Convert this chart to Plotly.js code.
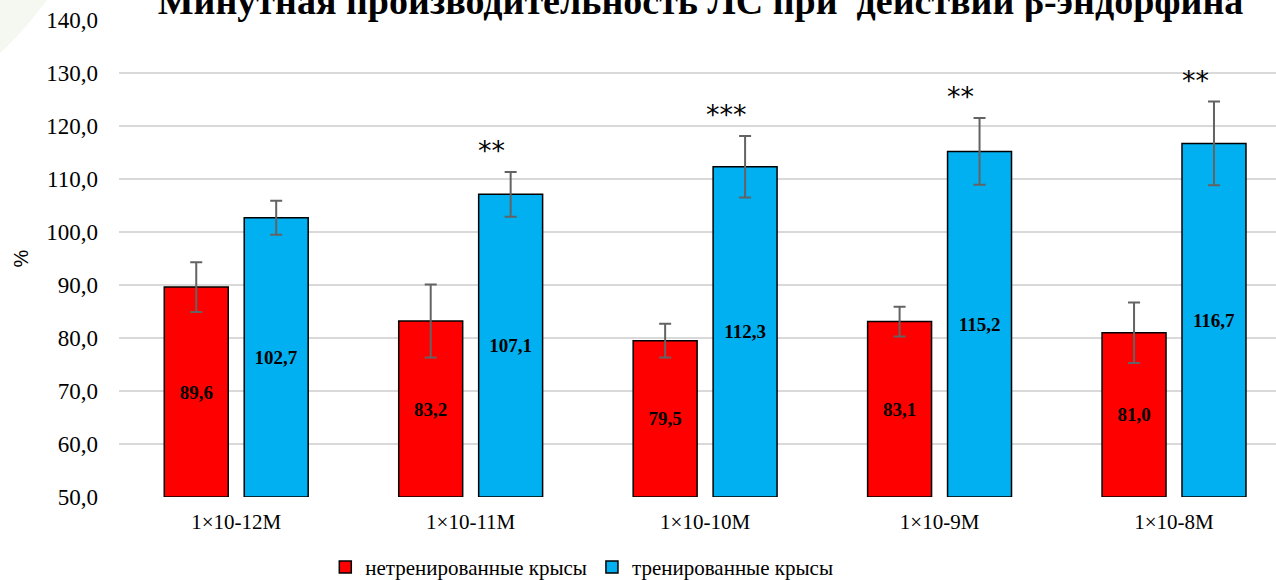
<!DOCTYPE html>
<html>
<head>
<meta charset="utf-8">
<script src="https://cdn.plot.ly/plotly-3.0.1.min.js"></script>
<style>html,body{margin:0;padding:0;background:#fff;}#chart{width:1276px;height:580px;}</style>
</head>
<body>
<div id="chart"></div>
<script>
const categories = ["1×10-12M", "1×10-11M", "1×10-10M", "1×10-9M", "1×10-8M"];
const untrainedValues = [89.6, 83.2, 79.5, 83.1, 81.0];
const untrainedErrors = [4.7, 6.9, 3.2, 2.8, 5.7];
const trainedValues = [102.7, 107.1, 112.3, 115.2, 116.7];
const trainedErrors = [3.2, 4.2, 5.8, 6.3, 7.9];
const significance = ["", "**", "***", "**", "**"];
const seriesNames = ["нетренированные крысы", "тренированные крысы"];
const yTicks = [50, 60, 70, 80, 90, 100, 110, 120, 130, 140];
const axisBase = 50;

const serif = "Liberation Serif, Times New Roman, serif";
const sans = "Liberation Sans, Arial, sans-serif";

function barTrace(name, values, errors, color) {
  return {
    type: "bar",
    name: name,
    x: categories.map((c, i) => i),
    base: axisBase,
    y: values.map(v => v - axisBase),
    text: values.map(v => v.toFixed(1).replace(".", ",")),
    texttemplate: "%{text}",
    marker: {color: color, line: {color: "#000000", width: 1.5}},
    error_y: {type: "data", array: errors, visible: true, color: "#636363", thickness: 2, width: 6},
    textposition: "inside",
    insidetextanchor: "middle",
    textangle: 0,
    constraintext: "none",
    textfont: {family: serif, size: 19, color: "#000000", weight: "bold"},
    hoverinfo: "skip"
  };
}

const traces = [
  barTrace(seriesNames[0], untrainedValues, untrainedErrors, "#FF0000"),
  barTrace(seriesNames[1], trainedValues, trainedErrors, "#00B0F0")
];

const annotations = significance.map((s, i) => ({
  x: i + 0.09, xref: "x",
  y: trainedValues[i] + trainedErrors[i], yref: "y",
  text: s,
  showarrow: false,
  xanchor: "center", yanchor: "bottom",
  yshift: 4,
  font: {family: "DejaVu Sans, sans-serif", size: 27, color: "#000000"}
})).filter(a => a.text !== "");

const layout = {
  width: 1276, height: 580,
  margin: {l: 119, r: 0, t: 20, b: 83},
  paper_bgcolor: "#ffffff", plot_bgcolor: "rgba(0,0,0,0)",
  separators: ",.",
  title: {
    text: "<b>Минутная производительность ЛС при  действии β-эндорфина</b>",
    font: {family: serif, size: 38, color: "#000000"},
    x: 0.549, xanchor: "center", xref: "container",
    y: 0.998, yanchor: "middle", yref: "container"
  },
  barmode: "group",
  bargap: 0.318,
  bargroupgap: 0.2,
  showlegend: true,
  legend: {
    orientation: "h",
    x: 0.400, xanchor: "center",
    y: 0.022, yanchor: "middle", yref: "container",
    font: {family: serif, size: 21, color: "#000000"},
    traceorder: "normal"
  },
  xaxis: {
    type: "linear",
    range: [-0.5, 4.435],
    tickmode: "array",
    tickvals: categories.map((c, i) => i),
    ticktext: categories,
    showgrid: false,
    zeroline: false,
    showline: false,
    ticks: "",
    ticklabelstandoff: 10,
    tickfont: {family: serif, size: 21, color: "#000000"},
    fixedrange: true
  },
  yaxis: {
    range: [50, 140],
    tickmode: "array",
    tickvals: yTicks,
    tickformat: ".1f",
    showgrid: true,
    gridcolor: "#d9d9d9",
    gridwidth: 1.5,
    zeroline: false,
    showline: false,
    ticks: "",
    ticklabelstandoff: 20,
    tickfont: {family: serif, size: 23, color: "#000000"},
    title: {text: "%", font: {family: sans, size: 20, color: "#000000"}, standoff: 12},
    fixedrange: true
  },
  shapes: [{
    type: "path", xref: "paper", yref: "paper", layer: "below",
    path: "M -0.1029 1.0419 L -0.062 1.0419 Q -0.085 0.97 -0.1029 0.93 Z",
    fillcolor: "#f5f8f1", line: {width: 0}
  }],
  annotations: annotations
};

Plotly.newPlot("chart", traces, layout, {displayModeBar: false, staticPlot: true});
</script>
</body>
</html>
